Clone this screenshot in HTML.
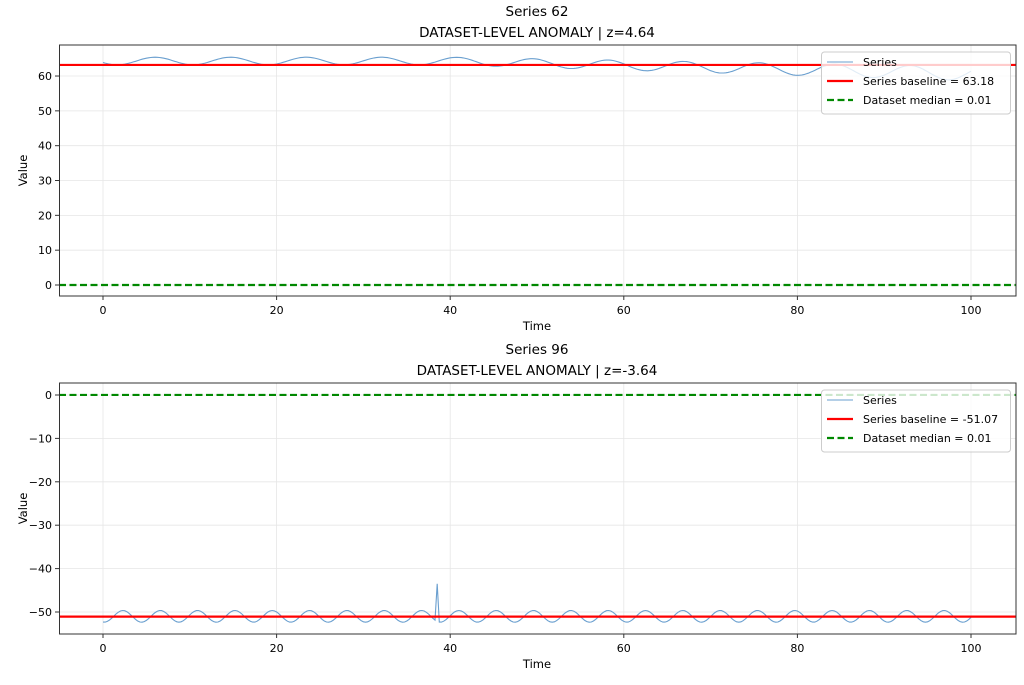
<!DOCTYPE html>
<html><head><meta charset="utf-8"><style>
body{margin:0;background:#fff;}
svg text{font-family:"DejaVu Sans","Liberation Sans",sans-serif;fill:#000;}
</style></head><body>
<svg id="s" width="1024" height="680" xmlns="http://www.w3.org/2000/svg"></svg>
<script>
const s=document.getElementById('s');let h='';
const X=t=>103+8.68*t;
function panel(top,bot,y0px,scale,yticks,title1,title2,fn,baseV,baseLabel,legendTop){
  const Y=v=>y0px-scale*v;
  h+=`<text x="537" y="${top-29}" font-size="13.5" text-anchor="middle">${title1}</text>`;
  h+=`<text x="537" y="${top-8}" font-size="13.5" text-anchor="middle">${title2}</text>`;
  for(let t=0;t<=100;t+=20){h+=`<line x1="${X(t)}" x2="${X(t)}" y1="${top}" y2="${bot}" stroke="#e6e6e6" stroke-width="0.8"/>`;
    h+=`<line x1="${X(t)}" x2="${X(t)}" y1="${bot}" y2="${bot+4}" stroke="#333"/>`;
    h+=`<text x="${X(t)}" y="${bot+18}" font-size="11" text-anchor="middle">${t}</text>`;}
  for(const v of yticks){const y=Y(v);h+=`<line x1="59" x2="1016" y1="${y}" y2="${y}" stroke="#e6e6e6" stroke-width="0.8"/>`;
    h+=`<line x1="55" x2="59" y1="${y}" y2="${y}" stroke="#333"/>`;
    h+=`<text x="52" y="${y+4}" font-size="11" text-anchor="end">${v<0?'\u2212'+(-v):v}</text>`;}
  let p='';for(let t=0;t<=100;t+=0.25){p+=(p?' ':'')+X(t).toFixed(1)+','+Y(fn(t)).toFixed(1);}
  h+=`<polyline points="${p}" fill="none" stroke="#6a9fcf" stroke-width="1.1"/>`;
  h+=`<line x1="59" x2="1016" y1="${Y(baseV)}" y2="${Y(baseV)}" stroke="#f00" stroke-width="2.2"/>`;
  h+=`<line x1="59" x2="1016" y1="${Y(0.01)}" y2="${Y(0.01)}" stroke="#080" stroke-width="2.2" stroke-dasharray="7,3.5"/>`;
  h+=`<rect x="59.5" y="${top}" width="956.5" height="${bot-top}" fill="none" stroke="#333" stroke-width="1"/>`;
  h+=`<text x="537" y="${bot+34}" font-size="11.5" text-anchor="middle">Time</text>`;
  const my=(top+bot)/2;h+=`<text x="27" y="${my}" font-size="11.5" text-anchor="middle" transform="rotate(-90 27 ${my})">Value</text>`;
  const lt=legendTop;
  h+=`<rect x="821.5" y="${lt}" width="189" height="62" rx="3" fill="#fff" fill-opacity="0.8" stroke="#ccc"/>`;
  h+=`<line x1="827" x2="853" y1="${lt+10}" y2="${lt+10}" stroke="#6a9fcf" stroke-width="1.1"/><text x="863" y="${lt+14}" font-size="11">Series</text>`;
  h+=`<line x1="827" x2="853" y1="${lt+29}" y2="${lt+29}" stroke="#f00" stroke-width="2.2"/><text x="863" y="${lt+33}" font-size="11">${baseLabel}</text>`;
  h+=`<line x1="827" x2="853" y1="${lt+48}" y2="${lt+48}" stroke="#080" stroke-width="2.2" stroke-dasharray="7,3.5"/><text x="863" y="${lt+52}" font-size="11">Dataset median = 0.01</text>`;
}
panel(45,296,285,3.483,[0,10,20,30,40,50,60],'Series 62','DATASET-LEVEL ANOMALY | z=4.64',
 t=>{const d=t<40?0:(t-40)*0.06;const A=1.1+(t>40?(t-40)*0.015:0);return 64.3-d+A*Math.sin(2*Math.PI*(t-6)/8.7+Math.PI/2);},63.18,'Series baseline = 63.18',52);
panel(383,634,395,4.34,[0,-10,-20,-30,-40,-50],'Series 96','DATASET-LEVEL ANOMALY | z=-3.64',
 t=>{let v=-51+1.35*Math.sin(2*Math.PI*(t-2.3)/4.3+Math.PI/2);if(Math.abs(t-38.5)<0.2)v=-43.5;return v;},-51.07,'Series baseline = -51.07',390);
s.innerHTML=h;
</script>
</body></html>
